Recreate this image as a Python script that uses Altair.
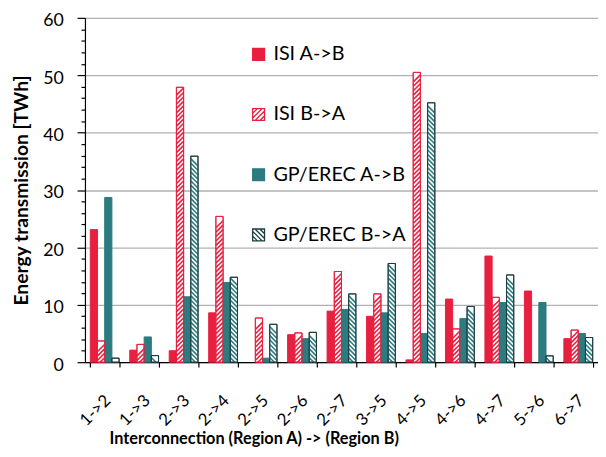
import altair as alt
import pandas as pd

categories = ["1->2", "1->3", "2->3", "2->4", "2->5", "2->6", "2->7",
              "3->5", "4->5", "4->6", "4->7", "5->6", "6->7"]
series = ["ISI A->B", "ISI B->A", "GP/EREC A->B", "GP/EREC B->A"]
isi_ab = [23.1, 2.1, 2.0, 8.6, 0.0, 4.8, 8.9, 8.0, 0.4, 11.0, 18.5, 12.4, 4.1]
isi_ba = [3.7, 3.1, 47.9, 25.4, 7.7, 5.1, 15.8, 11.9, 50.5, 5.8, 11.3, 0.0, 5.6]
gp_ab = [28.7, 4.4, 11.4, 13.9, 0.7, 4.1, 9.2, 8.6, 5.0, 7.6, 10.4, 10.4, 5.0]
gp_ba = [0.7, 1.15, 35.9, 14.8, 6.6, 5.2, 11.9, 17.2, 45.2, 9.7, 15.2, 1.1, 4.3]
y_ticks = list(range(0, 61, 2))

RED = "#e8203f"
TEAL = "#2c7b80"
DARK = "#1c3c3e"
FONT = "Lato"

rows = []
for name, vals in zip(series, [isi_ab, isi_ba, gp_ab, gp_ba]):
    for c, v in zip(categories, vals):
        rows.append({"cat": c, "series": name, "value": v})
df = pd.DataFrame(rows)

SQ = "M-1,-1H1V1H-1Z"
HATCH_R = SQ + " M-1,-0.2L-0.2,-1 M-1,0.6L0.6,-1 M-0.6,1L1,-0.6 M0.2,1L1,0.2"
HATCH_L = SQ + " M1,-0.2L0.2,-1 M1,0.6L-0.6,-1 M0.6,1L-1,-0.6 M-0.2,1L-1,0.2"

legend = alt.Legend(orient="none", legendX=166, legendY=27, title=None,
                    symbolSize=144, symbolStrokeWidth=1.3, labelFontSize=20,
                    labelFont=FONT, labelColor="black", rowPadding=41,
                    labelOffset=5, padding=0)

fill = alt.Fill("series:N", scale=alt.Scale(domain=series, range=[RED, "white", TEAL, "white"]), legend=legend)
stroke = alt.Stroke("series:N", scale=alt.Scale(domain=series, range=[RED, RED, TEAL, DARK]), legend=legend)
shape = alt.Shape("series:N", scale=alt.Scale(domain=series, range=[SQ, HATCH_R, SQ, HATCH_L]), legend=legend)

xaxis = alt.Axis(title="Interconnection (Region A) -> (Region B)", tickBand="extent",
                 tickSize=5, tickColor="black", tickWidth=1.2, domainColor="black",
                 domainWidth=1.2, labelAngle=315, labelAlign="right", labelBaseline="middle",
                 labelPadding=31, labelOffset=3, labelFontSize=17, labelFont=FONT,
                 labelColor="black", labelOverlap=False, titleFont=FONT, titleFontSize=16.5,
                 titleFontWeight="bold", titleColor="black", titleX=171, titleY=77,
                 titleAlign="center", titleBaseline="middle", grid=False)
x = alt.X("cat:N", scale=alt.Scale(domain=categories, paddingInner=0.27, paddingOuter=0.135), axis=xaxis)
xoff = alt.XOffset("series:N", scale=alt.Scale(domain=series, paddingInner=0, paddingOuter=0))
yscale = alt.Scale(domain=[0, 60], nice=False)
major = "datum.value % 10 === 0"
yaxis = alt.Axis(orient="left", values=y_ticks,
                 tickSize={"condition": {"test": major, "value": 8}, "value": 4},
                 tickColor="black", tickWidth=1.2, domainColor="black", domainWidth=1.2,
                 labelExpr="datum.value % 10 === 0 ? datum.label : ''",
                 labelPadding=14, labelOffset=3, labelFontSize=18, labelFont=FONT,
                 labelColor="black", labelOverlap=False, grid=True,
                 gridColor="#b0b0b0", gridWidth=1.3,
                 gridOpacity={"condition": {"test": major, "value": 1}, "value": 0},
                 title="Energy transmission [TWh]",
                 titleFont=FONT, titleFontSize=19.5, titleFontWeight="bold", titleColor="black",
                 titleX=-64, titleY=174.5, titleAngle=270, titleAlign="center",
                 titleBaseline="middle")

base = alt.Chart(df)

bars = base.transform_filter("datum.value > 0").mark_bar(strokeWidth=1).encode(
    x=x, xOffset=xoff,
    y=alt.Y("value:Q", scale=yscale, axis=yaxis),
    fill=fill, stroke=stroke,
)

def hatch(name, path, color):
    return base.transform_filter(alt.datum.series == name).transform_calculate(
        h="sequence(-0.6, datum.value - 0.63, 0.77)"
    ).transform_flatten(["h"]).mark_point(
        shape=path, filled=False, stroke=color, strokeWidth=1.6, size=50, opacity=1, clip=True
    ).encode(
        x=x, xOffset=xoff,
        y=alt.Y("h:Q", scale=yscale, axis=yaxis),
    )

hatch_r = hatch("ISI B->A", "M-1,1L1,-1", RED)
hatch_l = hatch("GP/EREC B->A", "M-1,-1L1,1", TEAL)

outline = base.transform_filter("datum.value > 0 && indexof(datum.series, 'B->A') >= 0").mark_bar(
    fillOpacity=0, strokeWidth=1
).encode(
    x=x, xOffset=xoff,
    y=alt.Y("value:Q", scale=yscale, axis=yaxis),
    stroke=stroke,
)

legend_layer = base.transform_filter("false").mark_point(filled=True, opacity=1).encode(
    x=x, xOffset=xoff,
    y=alt.Y("value:Q", scale=yscale, axis=yaxis),
    fill=fill, stroke=stroke, shape=shape,
)

chart = alt.layer(bars, hatch_r, hatch_l, outline, legend_layer).properties(
    width=520, height=349,
    padding={"left": 78, "top": 7, "right": 0, "bottom": 85},
    autosize=alt.AutoSizeParams(type="none"),
    background="white",
).configure_view(stroke=None)

chart.save("out.html", embed_options={"renderer": "svg", "actions": False})
